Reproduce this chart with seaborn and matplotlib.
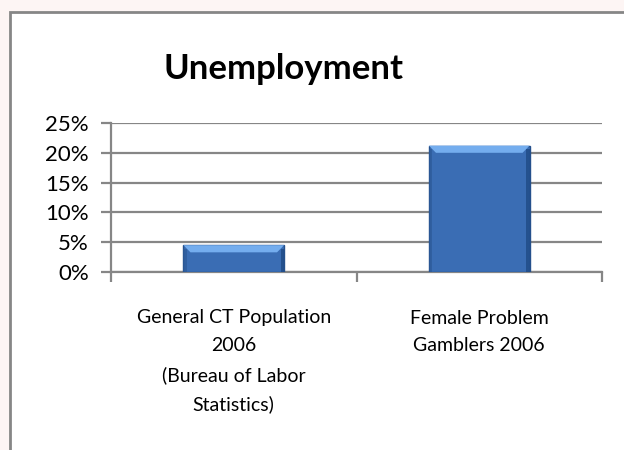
import numpy as np
import pandas as pd
import seaborn as sns
import matplotlib
matplotlib.use('Agg')
from matplotlib import pyplot
from matplotlib.patches import Rectangle, Polygon
from matplotlib.ticker import PercentFormatter

#%% data
categories = ['General CT Population\n2006\n(Bureau of Labor\nStatistics)',
              'Female Problem\nGamblers 2006']
unemployment = [4.5, 21.2]
yticks = [0, 5, 10, 15, 20, 25]
title = 'Unemployment'

df = pd.DataFrame({'group': categories, 'rate': unemployment})

#%% style
sns.set_style('white')
pyplot.rcParams['font.family'] = ['Lato', 'DejaVu Sans']
grey = '#868686'

fig = pyplot.figure(figsize=(6.24, 4.5), dpi=100)
fig.patch.set_facecolor('#fdf5f4')
# white chart area with grey frame (runs off right and bottom edge)
fig.patches.append(Rectangle((10 / 624, -0.1), 1.1, 1 - 12 / 450 + 0.1,
                             transform=fig.transFigure, facecolor='white',
                             edgecolor=grey, linewidth=2, zorder=-5))

ax = fig.add_axes([111 / 624, 1 - 272 / 450, 491 / 624, 149 / 450])
ax.set_facecolor('none')
sns.barplot(data=df, x='group', y='rate', color='#3a6db4', width=0.41,
            edgecolor='#24508c', linewidth=1, saturation=1, ax=ax, zorder=3)

# bevel: lighter top band with slanted corners, dark side edges
for p in list(ax.patches):
    x, w, h = p.get_x(), p.get_width(), p.get_height()
    d = w * 0.07
    bh = 1.2
    ax.add_patch(Polygon([(x, h), (x + w, h), (x + w - d, h - bh), (x + d, h - bh)],
                         closed=True, facecolor='#74adee', edgecolor='none', zorder=4))
    ax.add_patch(Rectangle((x, 0), d * 0.5, h - bh * 0.5, facecolor='#2d5a98',
                           edgecolor='none', zorder=4, alpha=0.7))
    ax.add_patch(Rectangle((x + w - d * 0.5, 0), d * 0.5, h - bh * 0.5,
                           facecolor='#1f4a85', edgecolor='none', zorder=4, alpha=0.8))

ax.set_ylim(0, 25)
ax.set_xlim(-0.5, 1.5)
ax.set_yticks(yticks)
ax.yaxis.set_major_formatter(PercentFormatter(decimals=0))
ax.yaxis.grid(True, color=grey, linewidth=1.6, zorder=0)
ax.set_axisbelow(True)
ax.set_xlabel('')
ax.set_ylabel('')

for s in ['top', 'right']:
    ax.spines[s].set_visible(False)
for s in ['left', 'bottom']:
    ax.spines[s].set_color(grey)
    ax.spines[s].set_linewidth(1.6)

ax.tick_params(axis='y', length=7, width=1.6, color=grey, labelsize=16,
               pad=9, left=True, labelcolor='black')
ax.set_xticks([-0.5, 0.5, 1.5], minor=True)
ax.tick_params(axis='x', which='minor', length=7, width=1.6, color=grey,
               bottom=True)
ax.tick_params(axis='x', which='major', length=0, labelsize=14, pad=27,
               labelcolor='black')
for lab in ax.get_xticklabels():
    lab.set_linespacing(1.78)
    lab.set_horizontalalignment('center')

fig.text(283 / 624, 1 - 69 / 450, title, fontsize=25, fontweight='bold',
         ha='center', va='center', color='black')

fig.savefig('out.png', dpi=100, facecolor=fig.get_facecolor())
